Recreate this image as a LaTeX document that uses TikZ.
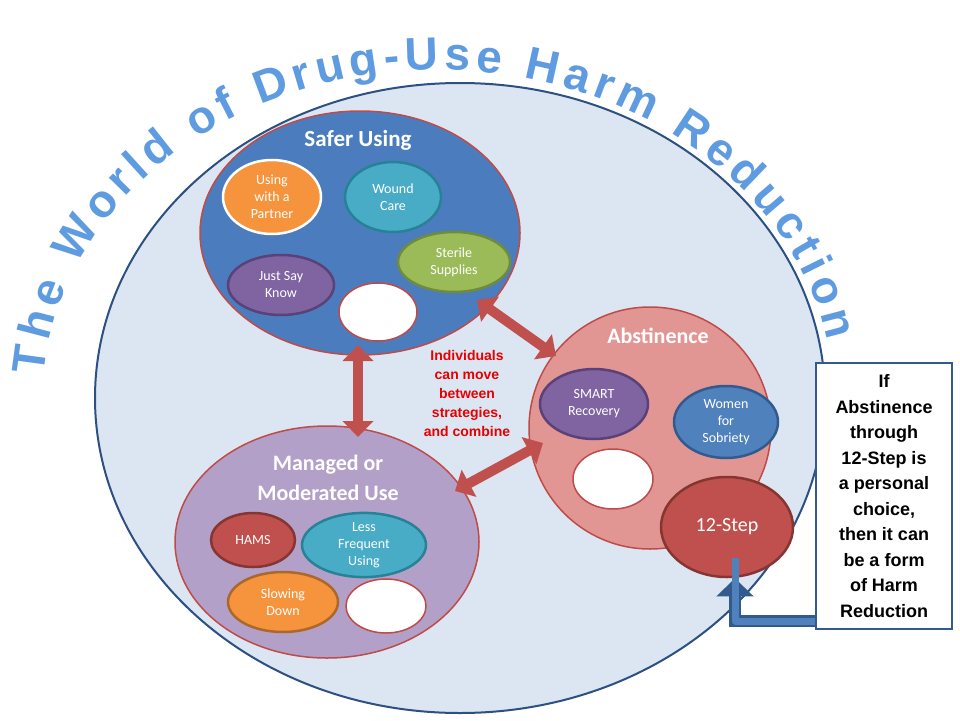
\documentclass[tikz,border=0pt]{standalone}
\usepackage{fontspec}
\setmainfont{Carlito}
\newfontfamily\arialf{Liberation Sans}
\usetikzlibrary{shapes.geometric,decorations.text,arrows.meta}
\definecolor{bgc}{RGB}{220,230,242}
\definecolor{ringc}{RGB}{45,80,130}
\definecolor{saferc}{RGB}{75,125,190}
\definecolor{redb}{RGB}{190,75,72}
\definecolor{abstc}{RGB}{226,150,148}
\definecolor{managedc}{RGB}{178,160,200}
\definecolor{orangec}{RGB}{245,148,60}
\definecolor{tealc}{RGB}{72,172,198}
\definecolor{tealb}{RGB}{40,130,150}
\definecolor{greenc}{RGB}{155,187,89}
\definecolor{greenb}{RGB}{110,140,60}
\definecolor{purpc}{RGB}{128,100,162}
\definecolor{purpb}{RGB}{90,65,120}
\definecolor{bluec}{RGB}{79,129,189}
\definecolor{blueb}{RGB}{50,90,140}
\definecolor{titlec}{RGB}{95,155,225}
\definecolor{darkred}{RGB}{192,80,77}
\definecolor{arrowc}{RGB}{192,80,77}
\tikzset{
  x=1pt,y=-1pt,
  ell/.style={ellipse,inner sep=0pt,line width=2.5pt,align=center,text=white,font=\fontsize{14}{17}\selectfont},
  big/.style={ellipse,inner sep=0pt,line width=1.5pt,draw=redb},
  blank/.style={ellipse,inner sep=0pt,fill=white,draw=redb,line width=1.5pt},
  dblarrow/.style={{Triangle[length=16pt,width=30pt]}-{Triangle[length=16pt,width=30pt]},line width=10pt,draw=arrowc},
}
\begin{document}
\begin{tikzpicture}
\useasboundingbox (0,0) rectangle (960,720);
\fill[white] (0,0) rectangle (960,720);
% world
\node[ellipse,draw=ringc,fill=bgc,line width=2pt,minimum width=730pt,minimum height=630pt,inner sep=0pt] (world) at (460,398) {};
% title
\path[decorate,decoration={text along path,text align=fit to path,
  text={|\arialf\bfseries\fontsize{46}{46}\selectfont\color{titlec}|The World of Drug-Use Harm Reduction}}]
  (438,398) ++(-176:395 and 328) arc[start angle=-176,end angle=-10,x radius=395,y radius=328];
% safer using
\node[big,fill=saferc,minimum width=320pt,minimum height=244pt] (safer) at (360,233) {};
\node[text=white,font=\bfseries\fontsize{23}{26}\selectfont] (saferl) at (358,140) {Safer Using};
\node[ell,fill=orangec,draw=white,minimum width=98pt,minimum height=74pt] (partner) at (272,197) {Using\\with a\\Partner};
\node[ell,fill=tealc,draw=tealb,minimum width=96pt,minimum height=70pt] (wound) at (393,197) {Wound\\Care};
\node[ell,fill=greenc,draw=greenb,minimum width=112pt,minimum height=60pt] (sterile) at (454,262) {Sterile\\Supplies};
\node[ell,fill=purpc,draw=purpb,minimum width=106pt,minimum height=60pt] (jsk) at (281,285) {Just Say\\Know};
\node[blank,minimum width=78pt,minimum height=58pt] (b1) at (378,312) {};
% abstinence
\node[big,fill=abstc,minimum width=242pt,minimum height=242pt] (abst) at (650,428) {};
\node[text=white,font=\bfseries\fontsize{22}{26}\selectfont] (abstl) at (658,336) {Abstinence};
\node[ell,fill=purpc,draw=purpb,minimum width=108pt,minimum height=70pt] (smart) at (594,404) {SMART\\Recovery};
\node[ell,fill=bluec,draw=blueb,minimum width=104pt,minimum height=72pt] (wfs) at (726,422) {Women\\for\\Sobriety};
\node[blank,minimum width=80pt,minimum height=60pt] (b2) at (613,479) {};
\node[ell,fill=darkred,draw=redb!70!black,minimum width=132pt,minimum height=100pt,font=\fontsize{20}{24}\selectfont] (step) at (727,527) {12-Step};
% managed
\node[big,fill=managedc,minimum width=304pt,minimum height=232pt] (man) at (327,542) {};
\node[text=white,font=\bfseries\fontsize{22}{30}\selectfont,align=center] (manl) at (328,478) {Managed or\\Moderated Use};
\node[ell,fill=darkred,draw=redb!70!black,minimum width=84pt,minimum height=54pt] (hams) at (253,540) {HAMS};
\node[ell,fill=tealc,draw=tealb,minimum width=124pt,minimum height=64pt] (lfu) at (364,545) {Less\\Frequent\\Using};
\node[ell,fill=orangec,draw=orangec!70!black,minimum width=110pt,minimum height=60pt] (slow) at (283,602) {Slowing\\Down};
\node[blank,minimum width=80pt,minimum height=54pt] (b3) at (386,606) {};
% red text
\node[text={rgb,255:red,230;green,0;blue,0},font=\arialf\bfseries\fontsize{14}{19}\selectfont,align=center] (move) at (467,393) {Individuals\\can move\\between\\strategies,\\and combine};
% double arrows
\draw[dblarrow] (358,345) -- (358,437);
\draw[dblarrow] (477,300) -- (556,356);
\draw[dblarrow] (455,491) -- (543,443);
% box
\node[draw=blueb,line width=2pt,fill=white,minimum width=136pt,minimum height=266pt,align=center,font=\arialf\bfseries\fontsize{18}{25.5}\selectfont] (box) at (884,496) {If\\Abstinence\\through\\12-Step is\\a personal\\choice,\\then it can\\be a form\\of Harm\\Reduction};
\coordinate (bend) at (735,621);
\draw[draw=blueb,line width=12pt,-{Triangle[length=18pt,width=36pt]}] (box.west |- bend) -- (bend) -- (step.south -| bend);
\draw[draw=bluec,line width=7pt,line join=round] (box.west |- bend) -- (bend) -- ([yshift=20pt]step.south -| bend);
\end{tikzpicture}
\end{document}
